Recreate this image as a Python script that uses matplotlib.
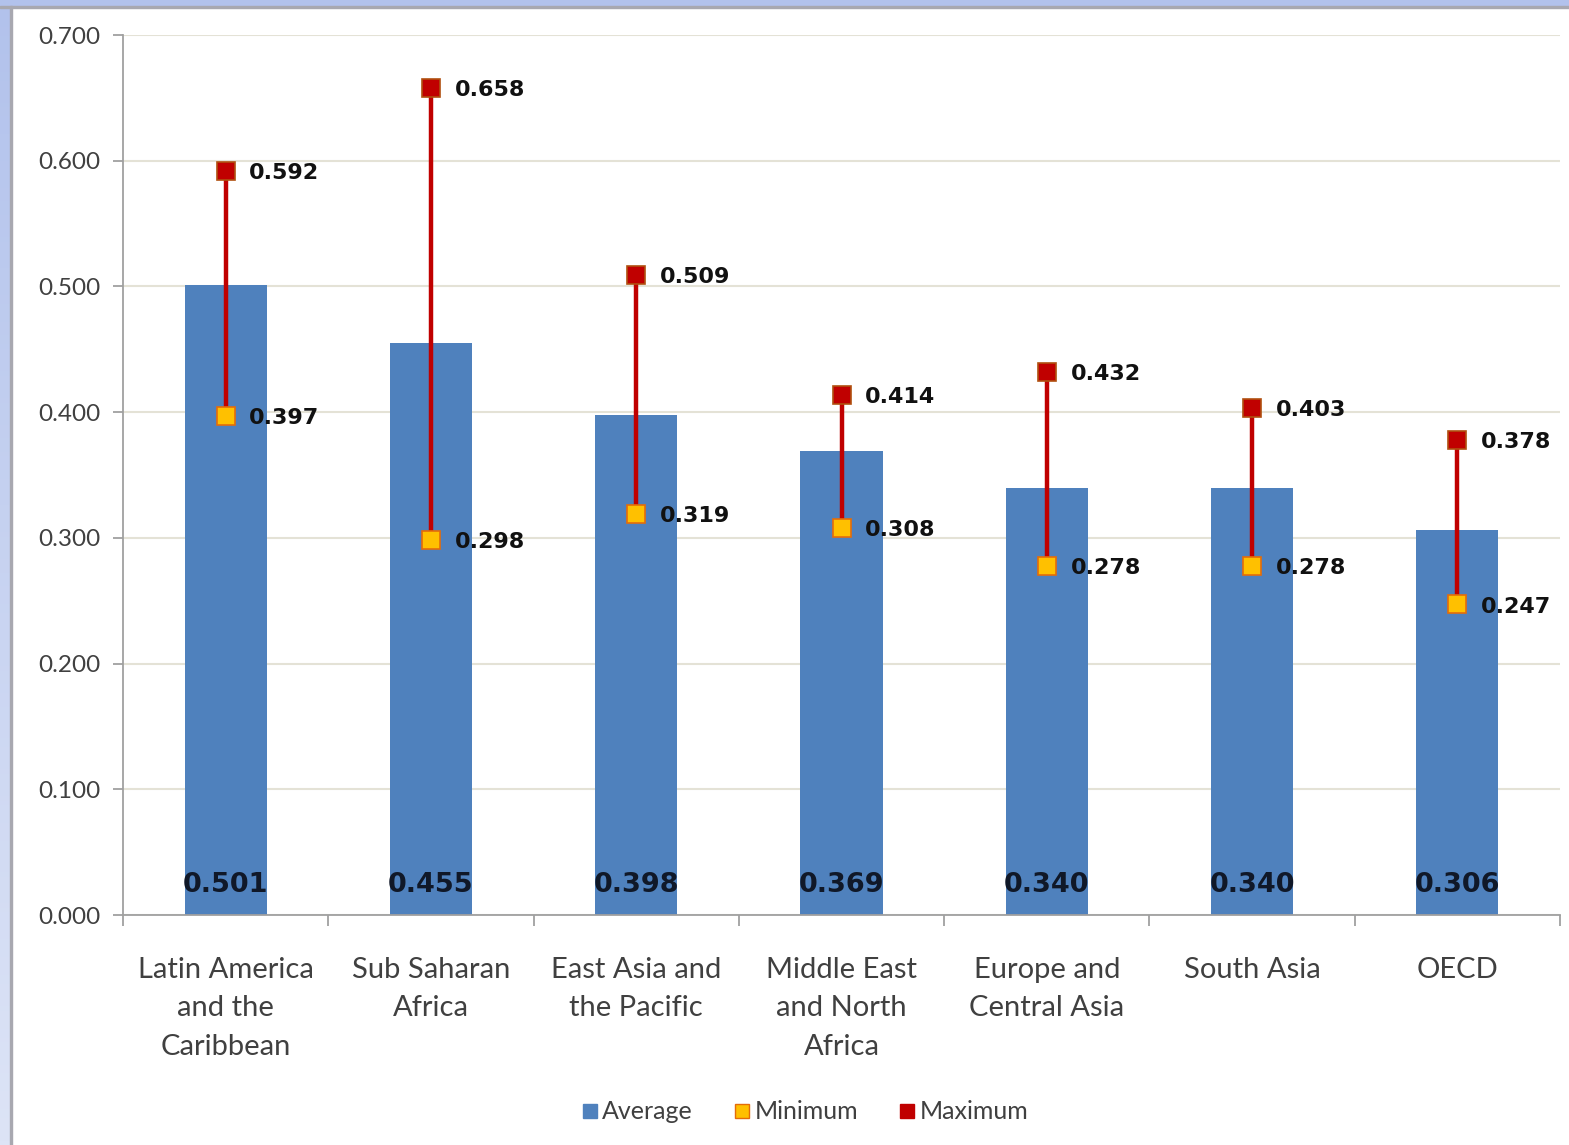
import matplotlib.pyplot as plt
import numpy as np
from matplotlib.lines import Line2D
from matplotlib.patches import Rectangle
from matplotlib.colors import LinearSegmentedColormap

regions = ["Latin America\nand the\nCaribbean", "Sub Saharan\nAfrica", "East Asia and\nthe Pacific",
           "Middle East\nand North\nAfrica", "Europe and\nCentral Asia", "South Asia", "OECD"]
average = [0.501, 0.455, 0.398, 0.369, 0.340, 0.340, 0.306]
minimum = [0.397, 0.298, 0.319, 0.308, 0.278, 0.278, 0.247]
maximum = [0.592, 0.658, 0.509, 0.414, 0.432, 0.403, 0.378]

blue = '#4f81bd'
red = '#c00000'
yellow = '#ffc000'
orange_edge = '#e46c0a'
text_gray = '#404040'
label_font = 'Lato'

fig = plt.figure(figsize=(15.69, 11.45), dpi=100)
fig.patch.set_facecolor('white')

# slide-style frame: blue strip on top and left
strip = fig.add_axes([0, 0, 10 / 1569, 1])
grad = np.linspace(0, 1, 256).reshape(-1, 1)
cmap = LinearSegmentedColormap.from_list('strip', ['#dde4f6', '#b2c2ec'])
strip.imshow(grad, aspect='auto', cmap=cmap, origin='lower', extent=[0, 1, 0, 1])
strip.axis('off')
fig.patches.append(Rectangle((0, 1 - 6 / 1145), 1, 6 / 1145, transform=fig.transFigure,
                             color='#b2c2ec', zorder=0))
fig.patches.append(Rectangle((0, 1 - 8 / 1145), 1, 2 / 1145, transform=fig.transFigure,
                             color='#a8a8b0', zorder=0))
fig.patches.append(Rectangle((10 / 1569, 0), 2 / 1569, 1 - 6 / 1145, transform=fig.transFigure,
                             color='#a8a8b0', zorder=0))

ax = fig.add_axes([123 / 1569, 1 - 915 / 1145, (1560 - 123) / 1569, (915 - 35) / 1145])
x = np.arange(len(regions))

ax.bar(x, average, width=0.4, color=blue, zorder=2)
ax.vlines(x, minimum, maximum, color=red, lw=3.2, zorder=3)
ax.plot(x, minimum, 's', ms=13, mfc=yellow, mec=orange_edge, mew=1.2, ls='none', zorder=4)
ax.plot(x, maximum, 's', ms=13, mfc=red, mec='#b05010', mew=1.2, ls='none', zorder=4)

for xi, lo, hi, avg in zip(x, minimum, maximum, average):
    ax.annotate(f"{hi:.3f}", (xi, hi), xytext=(17, -1.5), textcoords='offset points',
                ha='left', va='center', fontsize=16, fontweight='bold',
                family='DejaVu Sans', color='#111111', zorder=5)
    ax.annotate(f"{lo:.3f}", (xi, lo), xytext=(17, -1.5), textcoords='offset points',
                ha='left', va='center', fontsize=16, fontweight='bold',
                family='DejaVu Sans', color='#111111', zorder=5)
    ax.annotate(f"{avg:.3f}", (xi, 0), xytext=(0, 21.5), textcoords='offset points',
                ha='center', va='center', fontsize=19.5, fontweight='bold',
                family='DejaVu Sans', color='#101828', zorder=5)

ax.set_xlim(-0.5, len(regions) - 0.5)
ax.set_ylim(0, 0.7)
ax.set_yticks(np.arange(0, 0.71, 0.1))
ax.set_yticklabels([f"{v:.3f}" for v in np.arange(0, 0.71, 0.1)],
                   fontsize=17.5, family=label_font, color=text_gray)
ax.set_xticks(x)
ax.set_xticklabels(regions, fontsize=21, family=label_font, color=text_gray, linespacing=1.6)
ax.set_xticks(np.arange(-0.5, len(regions)), minor=True)
ax.tick_params(axis='x', which='major', length=0, pad=30)
ax.tick_params(axis='x', which='minor', length=8, color='#a0a0a0', width=1.3)
ax.tick_params(axis='y', length=7, color='#a0a0a0', width=1.3, pad=9)

ax.grid(axis='y', color='#e4e2d6', lw=1.5, zorder=0)
ax.set_axisbelow(True)
for side in ['top', 'right']:
    ax.spines[side].set_visible(False)
for side in ['left', 'bottom']:
    ax.spines[side].set_color('#a0a0a0')
    ax.spines[side].set_linewidth(1.3)

handles = [
    Line2D([], [], marker='s', ls='none', ms=10, mfc=blue, mec=blue),
    Line2D([], [], marker='s', ls='none', ms=10, mfc=yellow, mec=orange_edge),
    Line2D([], [], marker='s', ls='none', ms=10, mfc=red, mec=red),
]
fig.legend(handles, ['Average', 'Minimum', 'Maximum'], loc='center', ncol=3,
           bbox_to_anchor=(0.512, 0.029), frameon=False, handletextpad=0.05,
           handlelength=0.9, columnspacing=1.5, prop={'family': label_font, 'size': 18},
           labelcolor=text_gray)

fig.savefig('out.png', dpi=100, facecolor='white')
